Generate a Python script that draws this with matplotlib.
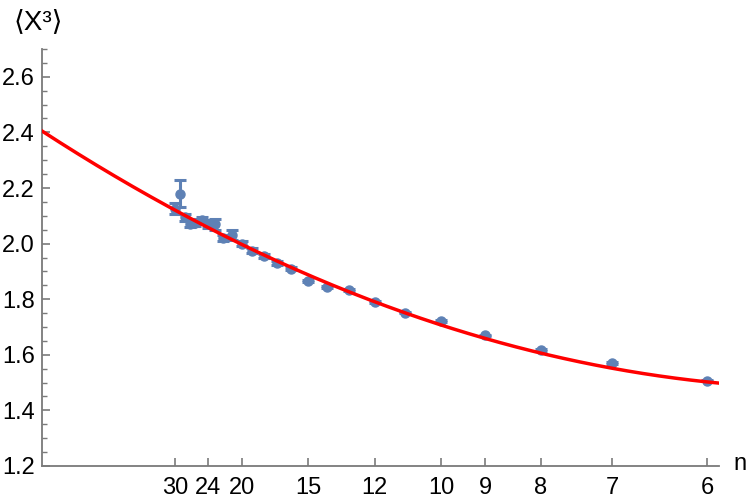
#Recreate <X^3> vs n plot, x axis in 1/n with fitted quadratic

#imports
import matplotlib.pyplot as plt
import numpy as np

plt.rcParams['font.family'] = ['Liberation Sans', 'DejaVu Sans']

#data
n = [30, 29, 28, 27, 26, 25, 24, 23, 22, 21, 20, 19, 18, 17, 16, 15, 14, 13, 12, 11, 10, 9, 8, 7, 6]
x3 = [2.125, 2.18, 2.095, 2.07, 2.075, 2.085, 2.07, 2.07, 2.02, 2.03, 2.00, 1.975, 1.955, 1.93, 1.91,
      1.865, 1.845, 1.832, 1.79, 1.752, 1.722, 1.670, 1.617, 1.570, 1.507]
err = [0.02, 0.05, 0.012, 0.01, 0.012, 0.01, 0.015, 0.02, 0.01, 0.018, 0.01, 0.008, 0.006, 0.006, 0.005,
       0.004, 0.004, 0.004, 0.004, 0.003, 0.003, 0.003, 0.003, 0.003, 0.003]

#fit: a + b/n + c/n^2
fitA = 2.405
fitB = -9.32
fitC = 23.43

nTicks = [30, 24, 20, 15, 12, 10, 9, 8, 7, 6]
yTicks = [1.2, 1.4, 1.6, 1.8, 2.0, 2.2, 2.4, 2.6]

blue = '#5E81B5'
gray = '#7a7a7a'

#initialize plot
fig = plt.figure(figsize=(7.5, 5.03), dpi=100)
ax = fig.add_axes([42/750, 37/503, 677/750, 417/503])

invN = 1.0/np.array(n)
ax.errorbar(invN, x3, yerr=err, fmt='o', color=blue, ms=6.5, elinewidth=2.2,
            capsize=4.5, capthick=2.2, zorder=2)

xs = np.linspace(0, 0.17, 300)
ax.plot(xs, fitA + fitB*xs + fitC*xs**2, color='#ff0000', lw=2.5, zorder=3)

ax.set_xlim(0, 677/3990)
ax.set_ylim(1.2, 2.7)

ax.set_xticks([1.0/k for k in nTicks])
ax.set_xticklabels([str(k) for k in nTicks])
ax.set_yticks(yTicks)
ax.set_yticklabels(['%.1f' % v for v in yTicks])
ax.set_yticks(np.arange(1.25, 2.7, 0.05), minor=True)

for s in ['top', 'right']:
    ax.spines[s].set_visible(False)
for s in ['left', 'bottom']:
    ax.spines[s].set_color(gray)
    ax.spines[s].set_linewidth(1.3)

ax.tick_params(axis='both', which='major', direction='in', length=6, width=1.2,
               color=gray, labelsize=17, labelcolor='black')
ax.tick_params(axis='y', which='minor', direction='in', length=3.5, width=1.0, color=gray)
ax.tick_params(axis='x', pad=8)
ax.tick_params(axis='y', pad=5)

fig.text(14/750, 1 - 22/503, '\u27e8X\u00b3\u27e9', fontsize=20, va='center', ha='left')
fig.text(733/750, 1 - 464/503, 'n', fontsize=17, va='center', ha='left')

plt.savefig('out.png', dpi=100)
